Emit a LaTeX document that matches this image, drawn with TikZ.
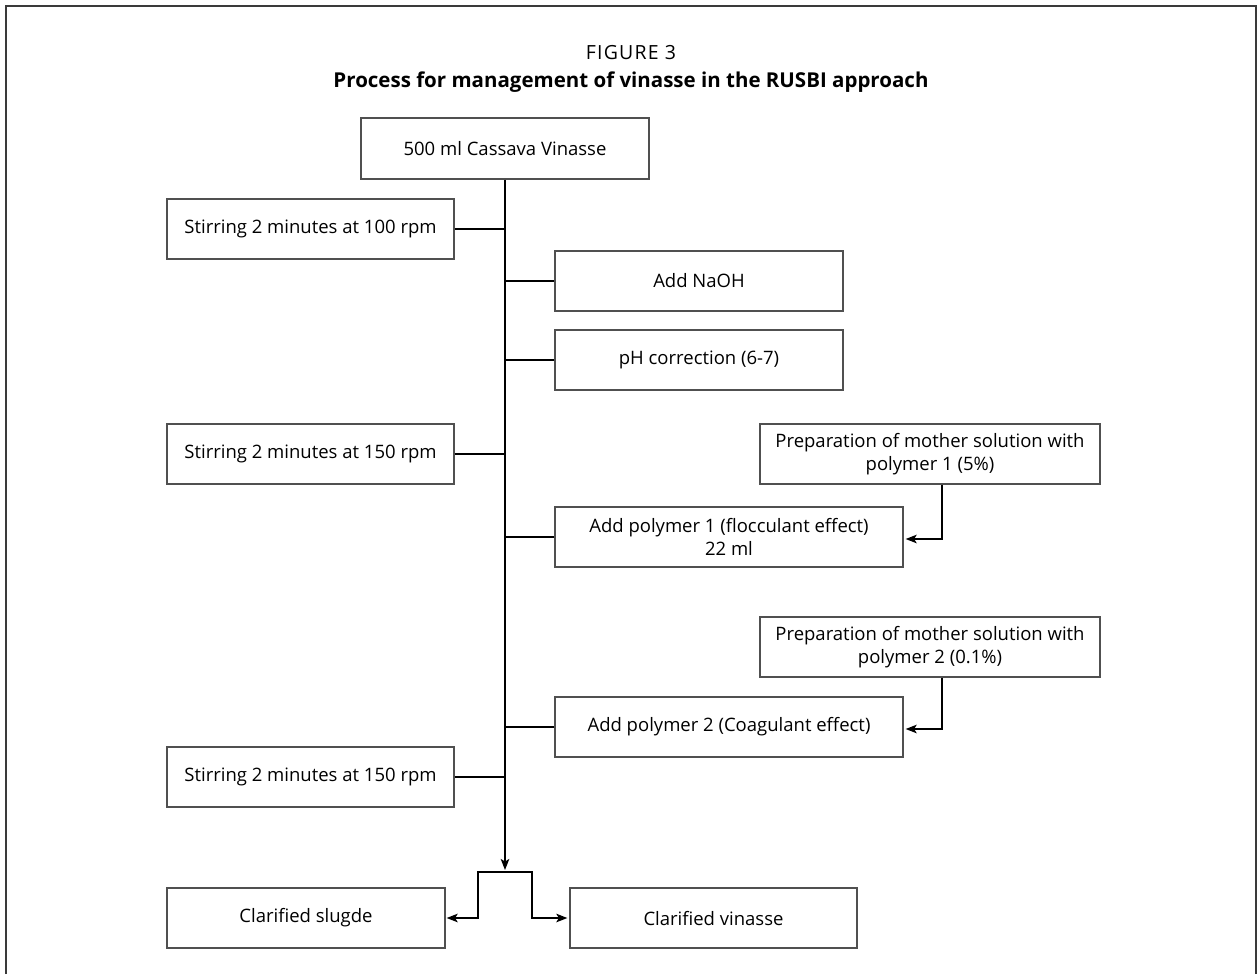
\documentclass[tikz,border=0pt]{standalone}
\usepackage{fontspec}
\setmainfont{Open Sans}
\usetikzlibrary{arrows.meta}
\definecolor{boxgray}{HTML}{505050}
\definecolor{framegray}{HTML}{3A3A3A}
\begin{document}
\begin{tikzpicture}[x=1pt,y=-1pt,
  box/.style={draw=boxgray, line width=1.3pt, rectangle, inner sep=0pt, align=center,
    font=\fontsize{18.5}{23}\selectfont, text=black},
  conn/.style={draw=black, line width=1.6pt},
  arr/.style={conn, -{Stealth[length=11pt,width=8.5pt,inset=2.5pt]}},
  darr/.style={conn, {Stealth[length=11pt,width=8.5pt,inset=2.5pt]}-{Stealth[length=11pt,width=8.5pt,inset=2.5pt]}}]
\useasboundingbox (0,0) rectangle (1257,974);
\draw[line width=2pt, draw=framegray] (6,974) -- (6,6.5) -- (1256,6.5) -- (1256,974);

\node[font=\fontsize{19.5}{23}\selectfont\addfontfeature{LetterSpace=6}] (fig) at (631,53) {FIGURE 3};
\node[font=\fontsize{20.5}{24}\selectfont\bfseries] (ttl) at (631,82) {Process for management of vinasse in the RUSBI approach};

\coordinate (tr) at (505,0);

\node[box, minimum width=288pt, minimum height=61pt] (src) at (505,148.5) {500 ml Cassava Vinasse};
\node[box, minimum width=287pt, minimum height=60pt] (s1) at (310.5,229) {Stirring 2 minutes at 100 rpm};
\node[box, minimum width=288pt, minimum height=60pt] (naoh) at (699,281) {Add NaOH};
\node[box, minimum width=288pt, minimum height=60pt] (ph) at (699,360) {pH correction (6-7)};
\node[box, minimum width=287pt, minimum height=60pt] (s2) at (310.5,454) {Stirring 2 minutes at 150 rpm};
\node[box, minimum width=340pt, minimum height=60pt] (p1) at (930,454) {Preparation of mother solution with\\polymer 1 (5\%)};
\node[box, minimum width=348pt, minimum height=60pt] (a1) at (729,537) {Add polymer 1 (flocculant effect)\\22 ml};
\node[box, minimum width=340pt, minimum height=60pt] (p2) at (930,647) {Preparation of mother solution with\\polymer 2 (0.1\%)};
\node[box, minimum width=348pt, minimum height=60pt] (a2) at (729,727) {Add polymer 2 (Coagulant effect)};
\node[box, minimum width=287pt, minimum height=60pt] (s3) at (310.5,777) {Stirring 2 minutes at 150 rpm};
\node[box, minimum width=278pt, minimum height=60pt] (sl) at (306,918) {Clarified slugde};
\node[box, minimum width=287pt, minimum height=60pt] (cv) at (713.5,918) {Clarified vinasse};

\coordinate (tip) at (505,870);
\coordinate (jl) at (478,872);
\coordinate (jr) at (532,872);

\draw[arr] (src.south) -- (tip);
\draw[conn] (s1.east) -- (s1.east -| tr);
\draw[conn] (naoh.west) -- (naoh.west -| tr);
\draw[conn] (ph.west) -- (ph.west -| tr);
\draw[conn] (s2.east) -- (s2.east -| tr);
\draw[conn] (a1.west) -- (a1.west -| tr);
\draw[conn] (a2.west) -- (a2.west -| tr);
\draw[conn] (s3.east) -- (s3.east -| tr);
\draw[arr] ([xshift=12pt]p1.south) |- ([xshift=2pt,yshift=-2pt]a1.east);
\draw[arr] ([xshift=12pt]p2.south) |- ([xshift=2pt,yshift=-2pt]a2.east);
\draw[darr] ([xshift=1pt]sl.east) -| (jl) -- (jr) |- ([xshift=-2pt]cv.west);
\end{tikzpicture}
\end{document}
